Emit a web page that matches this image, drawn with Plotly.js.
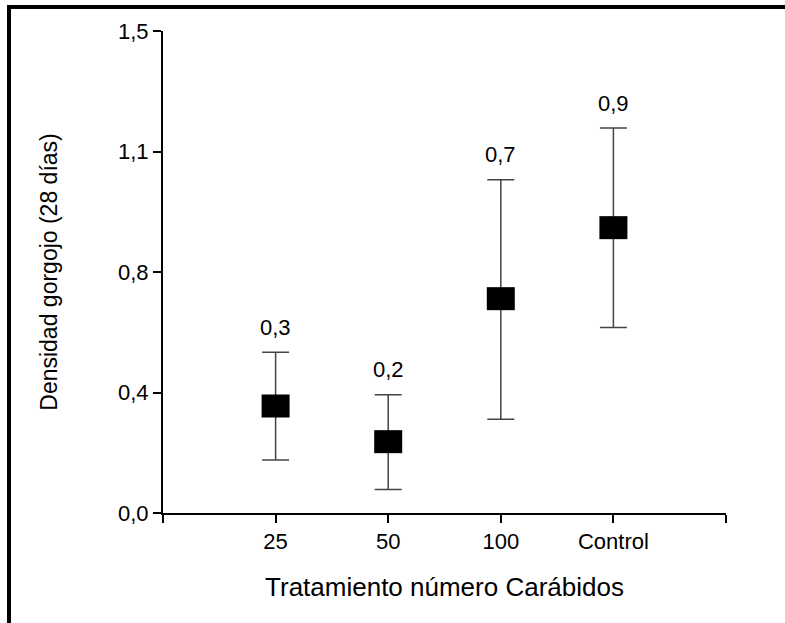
<!DOCTYPE html>
<html>
<head>
<meta charset="utf-8">
<script src="https://cdn.plot.ly/plotly-3.0.1.min.js"></script>
<style>
  html, body { margin: 0; padding: 0; background: #fff; }
  #wrap { position: relative; width: 785px; height: 623px; overflow: hidden; }
  #chart { position: absolute; left: 0; top: 0; width: 785px; height: 623px; }
  #frame { position: absolute; left: 7px; top: 5px; width: 800px; height: 640px;
           border-top: 4px solid #000; border-left: 4px solid #000; pointer-events: none; }
</style>
</head>
<body>
<div id="wrap">
  <div id="chart"></div>
  <div id="frame"></div>
</div>
<script>
// Data
const categories = ['25', '50', '100', 'Control'];
const positions = [1, 2, 3, 4];
const means = [0.333, 0.222, 0.667, 0.888];
const upper = [0.500, 0.368, 1.037, 1.198];
const lower = [0.165, 0.073, 0.292, 0.577];
const labels = ['0,3', '0,2', '0,7', '0,9'];
const yTickVals = [0, 0.375, 0.75, 1.125, 1.5];
const yTickText = ['0,0', '0,4', '0,8', '1,1', '1,5'];

const errPlus = upper.map((u, i) => u - means[i]);
const errMinus = lower.map((l, i) => means[i] - l);

const FONT = 'Liberation Sans, Arial, Helvetica, sans-serif';

const trace = {
  type: 'scatter',
  mode: 'markers',
  x: positions,
  y: means,
  marker: {
    symbol: 'line-ew',
    size: 20,
    color: '#000',
    line: { width: 23, color: '#000' }
  },
  error_y: {
    type: 'data',
    symmetric: false,
    array: errPlus,
    arrayminus: errMinus,
    color: '#444',
    thickness: 1.5,
    width: 13.5
  },
  hoverinfo: 'skip',
  showlegend: false,
  cliponaxis: false
};

const annotations = labels.map((t, i) => ({
  x: positions[i],
  y: upper[i],
  xref: 'x',
  yref: 'y',
  text: t,
  showarrow: false,
  yanchor: 'middle',
  yshift: 25,
  font: { family: FONT, size: 22, color: '#000' }
}));

const layout = {
  width: 785,
  height: 623,
  margin: { l: 163, r: 59, t: 31, b: 110 },
  paper_bgcolor: '#fff',
  plot_bgcolor: '#fff',
  showlegend: false,
  font: { family: FONT, color: '#000' },
  xaxis: {
    range: [0, 5],
    tickmode: 'array',
    tickvals: [0].concat(positions, [5]),
    ticktext: [''].concat(categories, ['']),
    ticks: 'outside',
    ticklen: 8,
    tickwidth: 2,
    tickcolor: '#000',
    showline: true,
    linewidth: 2,
    linecolor: '#000',
    showgrid: false,
    zeroline: false,
    tickfont: { family: FONT, size: 22, color: '#000' },
    title: { text: 'Tratamiento número Carábidos', font: { family: FONT, size: 26, color: '#000' }, standoff: 24 }
  },
  yaxis: {
    range: [0, 1.5],
    tickmode: 'array',
    tickvals: yTickVals,
    ticktext: yTickText,
    ticks: 'outside',
    ticklen: 8,
    tickwidth: 2,
    tickcolor: '#000',
    showline: true,
    linewidth: 2,
    linecolor: '#000',
    showgrid: false,
    zeroline: false,
    tickfont: { family: FONT, size: 22, color: '#000' },
    title: { text: 'Densidad gorgojo (28 días)', font: { family: FONT, size: 23, color: '#000' }, standoff: 54 }
  },
  annotations: annotations
};

Plotly.newPlot('chart', [trace], layout, { displayModeBar: false, staticPlot: true });
</script>
</body>
</html>
